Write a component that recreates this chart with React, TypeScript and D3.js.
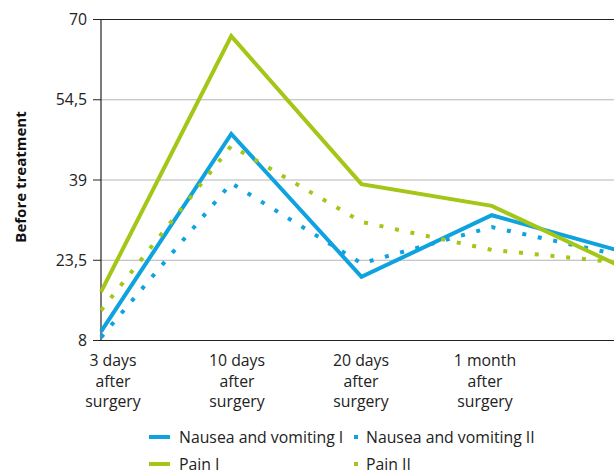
import React from "react";
import * as d3 from "d3";

const categories = ["3 days|after|surgery", "10 days|after|surgery", "20 days|after|surgery", "1 month|after|surgery", ""];
const yTicks = [8, 23.5, 39, 54.5, 70];
const nauseaI = [9.7, 47.9, 20.3, 32.2, 25.2];
const nauseaII = [8.6, 38.4, 22.9, 29.9, 24.4];
const painI = [17.4, 66.8, 38.2, 34.0, 22.2];
const painII = [13.8, 45.6, 30.9, 25.5, 23.0];

const BLUE = "#0ea2df";
const GREEN = "#a3c617";
const FONT = "'Open Sans', Lato, sans-serif";

const series = [
  { name: "Nausea and vomiting I", values: nauseaI, color: BLUE, dotted: false },
  { name: "Nausea and vomiting II", values: nauseaII, color: BLUE, dotted: true },
  { name: "Pain I", values: painI, color: GREEN, dotted: false },
  { name: "Pain II", values: painII, color: GREEN, dotted: true },
];

export default function App() {
  const W = 614, H = 473;
  const x = d3.scalePoint<number>().domain(d3.range(categories.length)).range([101, 622]);
  const labelX = d3.scalePoint<number>().domain(d3.range(4)).range([113, 485]);
  const y = d3.scaleLinear().domain([8, 70]).range([340.5, 19.5]);
  const line = d3
    .line<number>()
    .x((_, i) => x(i) as number)
    .y((v) => y(v));
  const fmt = (v: number) => String(v).replace(".", ",");

  const legendItems = [
    { s: series[0], lx: 149, ly: 437 },
    { s: series[1], lx: 356, ly: 437 },
    { s: series[2], lx: 149, ly: 464 },
    { s: series[3], lx: 356, ly: 464 },
  ];

  return (
    <div style={{ position: "absolute", left: 0, top: 0 }}>
      <svg width={W} height={H} style={{ display: "block", fontFamily: FONT }}>
        <rect width={W} height={H} fill="#fff" />
        {yTicks.map((t) => (
          <g key={t}>
            {t !== 8 && t !== 70 && (
              <line x1={101} x2={W} y1={y(t)} y2={y(t)} stroke="#b4b4b4" strokeWidth={1} />
            )}
            <line x1={93} x2={101} y1={y(t)} y2={y(t)} stroke="#222" strokeWidth={1} />
            <text x={87} y={y(t)} dy="0.35em" textAnchor="end" fontSize={15.8} fill="#222">
              {fmt(t)}
            </text>
          </g>
        ))}
        <line x1={101} x2={W} y1={y(70)} y2={y(70)} stroke="#222" strokeWidth={1.2} />
        <line x1={101} x2={W} y1={y(8)} y2={y(8)} stroke="#222" strokeWidth={1.2} />
        <line x1={101} x2={101} y1={y(70)} y2={y(8)} stroke="#222" strokeWidth={1.2} />
        <text
          transform={`translate(26,${(y(8) + y(70)) / 2 - 3}) rotate(-90)`}
          textAnchor="middle"
          fontSize={15}
          fontWeight="bold"
          fill="#111"
        >
          Before treatment
        </text>
        {categories.slice(0, 4).map((c, i) => (
          <text key={i} x={labelX(i)} textAnchor="middle" fontSize={15.8} fill="#222">
            {c.split("|").map((ln, j) => (
              <tspan key={j} x={labelX(i)} y={366 + j * 20.5}>
                {ln}
              </tspan>
            ))}
          </text>
        ))}
        {series.map((s) => (
          <path
            key={s.name}
            d={line(s.values) || ""}
            fill="none"
            stroke={s.color}
            strokeWidth={4}
            strokeDasharray={s.dotted ? "4 11.8" : undefined}
            strokeLinejoin="miter"
          />
        ))}
        {legendItems.map(({ s, lx, ly }) => (
          <g key={s.name}>
            {s.dotted ? (
              <rect x={lx - 2} y={ly - 2} width={4} height={4} fill={s.color} />
            ) : (
              <line x1={lx} x2={lx + 21} y1={ly} y2={ly} stroke={s.color} strokeWidth={4} />
            )}
            <text x={s.dotted ? lx + 10 : lx + 30} y={ly} dy="0.35em" fontSize={15.8} fill="#222">
              {s.name}
            </text>
          </g>
        ))}
      </svg>
    </div>
  );
}
